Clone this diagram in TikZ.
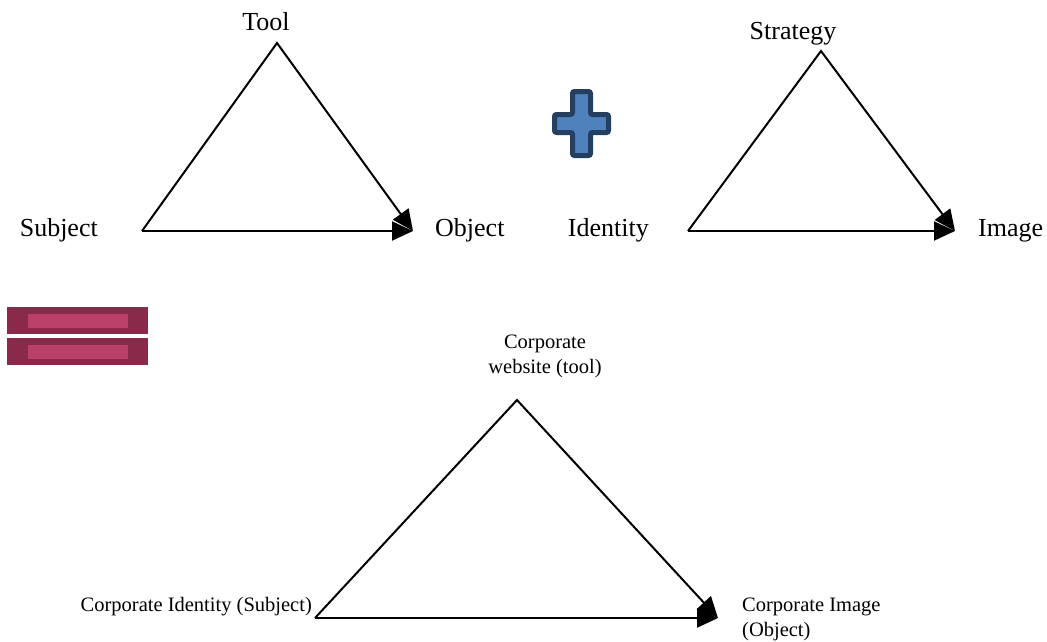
\documentclass[tikz,border=0pt]{standalone}
\usepackage{fontspec}
\setmainfont{Liberation Serif}
\usetikzlibrary{arrows.meta}
\definecolor{crossfill}{HTML}{4F81BD}
\definecolor{crossline}{HTML}{243F60}
\definecolor{eqdark}{HTML}{8A2A4B}
\definecolor{eqlight}{HTML}{BA3F69}
\begin{document}
\begin{tikzpicture}[x=1pt,y=-1pt,
  edge/.style={line width=2pt, line join=miter, -{Triangle[length=21pt,width=19pt]}},
  biglabel/.style={font=\fontsize{26}{30}\selectfont, inner sep=0pt},
  smalllabel/.style={font=\fontsize{20.5}{25}\selectfont, inner sep=0pt},
  bar/.style={fill=eqdark, draw=none},
  barcore/.style={fill=eqlight, draw=none}]
\useasboundingbox (0,0) rectangle (1047,641);

% activity triangle: subject, tool, object
\coordinate (t1) at (277,43);
\coordinate (s1) at (142,231);
\coordinate (o1) at (413,231);
\node[biglabel, anchor=base] (tool) at (266,30) {Tool};
\node[biglabel, anchor=base east] (subject) at (98,236) {Subject};
\node[biglabel, anchor=base west] (object) at (435,236) {Object};
\draw[edge] (s1) -- (t1) -- (o1);
\draw[edge] (s1) -- (o1);

% plus sign
\filldraw[fill=crossfill, draw=crossline, line width=5pt, rounded corners=2pt]
  (572.5,91.5) -- (590.5,91.5) -- (590.5,114.5) -- (608.5,114.5) -- (608.5,132.5)
  -- (590.5,132.5) -- (590.5,155.5) -- (572.5,155.5) -- (572.5,132.5)
  -- (554.5,132.5) -- (554.5,114.5) -- (572.5,114.5) -- cycle;

% communication triangle: identity, strategy, image
\coordinate (t2) at (821,51);
\coordinate (s2) at (688,231);
\coordinate (o2) at (955,231);
\node[biglabel, anchor=base] (strategy) at (793,39) {Strategy};
\node[biglabel, anchor=base east] (identity) at (649,236) {Identity};
\node[biglabel, anchor=base west] (image) at (978,236) {Image};
\draw[edge] (s2) -- (t2) -- (o2);
\draw[edge] (s2) -- (o2);

% equals sign
\fill[bar] (7,307) rectangle (148,334);
\fill[barcore] (28,314) rectangle (128,328);
\fill[bar] (7,338) rectangle (148,365);
\fill[barcore] (28,345) rectangle (128,359);

% combined triangle
\coordinate (t3) at (517,400);
\coordinate (s3) at (315,618);
\coordinate (o3) at (718,618);
\node[smalllabel, align=center, anchor=north] (website) at (545,335) {Corporate\\website (tool)};
\node[smalllabel, anchor=base east] (corpid) at (312,611) {Corporate Identity (Subject)};
\node[smalllabel, align=left, anchor=north west] (corpimg) at (742,598) {Corporate Image\\(Object)};
\draw[edge] (s3) -- (t3) -- (o3);
\draw[edge] (s3) -- (o3);
\end{tikzpicture}
\end{document}
